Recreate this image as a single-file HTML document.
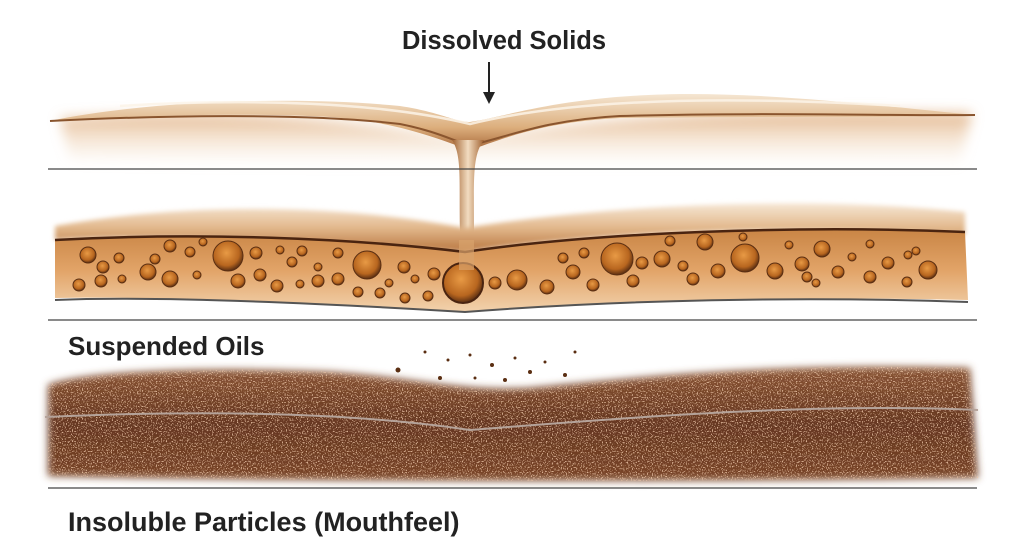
<!DOCTYPE html>
<html><head><meta charset="utf-8"><style>
html,body{margin:0;padding:0;background:#fff;}
body{width:1024px;height:559px;overflow:hidden;position:relative;font-family:"Liberation Sans",sans-serif;}
.t{position:absolute;font-weight:bold;color:#222;white-space:nowrap;}
</style></head><body>
<svg width="1024" height="559" viewBox="0 0 1024 559" style="position:absolute;left:0;top:0">
<defs>
<linearGradient id="fade" x1="0" y1="0" x2="0" y2="1">
<stop offset="0" stop-color="#dca470" stop-opacity="0.8"/><stop offset="1" stop-color="#f3dcc0" stop-opacity="0"/></linearGradient>
<linearGradient id="film" x1="0" y1="0" x2="0" y2="1">
<stop offset="0" stop-color="#f5e6d2"/><stop offset="0.6" stop-color="#dcae7c"/><stop offset="1" stop-color="#a8693a"/></linearGradient>
<linearGradient id="band" x1="0" y1="0" x2="0" y2="1">
<stop offset="0" stop-color="#c98545"/><stop offset="0.5" stop-color="#e2a468"/><stop offset="1" stop-color="#f2d2ad"/></linearGradient>
<linearGradient id="sheen" x1="0" y1="0" x2="0" y2="1">
<stop offset="0" stop-color="#f6e7d5"/><stop offset="0.5" stop-color="#e2b88c"/><stop offset="1" stop-color="#b8753e"/></linearGradient>
<linearGradient id="drip" x1="0" y1="0" x2="1" y2="0">
<stop offset="0" stop-color="#a0612f"/><stop offset="0.5" stop-color="#f2dcc0"/><stop offset="1" stop-color="#a0612f"/></linearGradient>
<radialGradient id="bub" cx="0.45" cy="0.4" r="0.6">
<stop offset="0" stop-color="#e89a45"/><stop offset="0.7" stop-color="#b8661f"/><stop offset="1" stop-color="#5a2e12"/></radialGradient>
<linearGradient id="soil" x1="0" y1="0" x2="0" y2="1">
<stop offset="0" stop-color="#8a5535"/><stop offset="0.5" stop-color="#653620"/><stop offset="1" stop-color="#7a4628"/></linearGradient>
<filter id="blur6" x="-10%" y="-50%" width="120%" height="200%"><feGaussianBlur stdDeviation="6"/></filter>
<filter id="blur3"><feGaussianBlur stdDeviation="2.5"/></filter>
<filter id="blur4" x="-5%" y="-20%" width="110%" height="140%"><feGaussianBlur stdDeviation="4"/></filter>
<filter id="speck" x="0" y="0" width="100%" height="100%">
<feTurbulence type="fractalNoise" baseFrequency="0.8" numOctaves="1" seed="3" result="n"/>
<feColorMatrix in="n" type="matrix" values="0 0 0 0 0.82  0 0 0 0 0.55  0 0 0 0 0.38  0 0 0 9 -5.0" result="s"/>
<feComposite in="s" in2="SourceGraphic" operator="in"/>
</filter>
<clipPath id="soilclip"><path d="M48,385 C80,372 200,366 330,372 C420,378 460,392 530,388 C620,380 760,362 970,368 L978,478 C700,482 300,482 48,476 Z"/></clipPath>
</defs>

<!-- top layer -->
<path d="M60,118 C200,110 330,114 465,140 C600,114 760,110 972,113 L960,165 C700,168 300,168 70,160 Z" fill="url(#fade)" filter="url(#blur6)"/>
<path d="M50,121 C150,100 300,96 400,106 C440,112 455,122 470,122 C510,116 560,96 680,94 C780,93 900,108 975,115 C900,118 760,116 620,118 C540,122 500,140 470,150 C440,140 400,122 330,117 C240,112 130,116 50,121 Z" fill="url(#film)"/>
<path d="M50,121 C150,116 300,112 400,124 C440,132 455,142 470,145 C500,140 540,120 620,116 C760,112 900,116 975,115" fill="none" stroke="#8a552e" stroke-width="2"/>
<path d="M120,106 C250,98 380,102 470,124 C560,102 700,94 900,106" fill="none" stroke="#fbf3e8" stroke-width="2.5" opacity="0.85"/>
<!-- drip -->
<path d="M452,140 C462,155 459,180 460,230 L459,270 L474,270 L474,230 C474,180 472,155 484,140 Z" fill="url(#drip)"/>
<line x1="48" y1="169" x2="977" y2="169" stroke="#444" stroke-width="1.3"/>

<!-- middle band -->
<path d="M55,226 C200,200 350,206 465,228 C600,206 800,194 965,212 L965,235 C800,225 620,230 465,252 C350,245 200,232 55,240 Z" fill="url(#sheen)" filter="url(#blur3)"/>
<path d="M55,240 C200,232 350,238 465,252 C600,232 800,225 965,232 L968,300 C800,296 620,300 465,312 C300,302 150,296 55,298 Z" fill="url(#band)"/>
<path d="M55,240 C200,232 350,238 465,252 C600,232 800,225 965,232" fill="none" stroke="#4a2410" stroke-width="2.5"/>
<path d="M55,300 C150,296 300,302 465,312 C620,300 800,296 968,302" fill="none" stroke="#555" stroke-width="2"/>
<g fill="url(#bub)" stroke="#5a2e12" stroke-width="1">
<circle cx="88" cy="255" r="8"/><circle cx="103" cy="267" r="6"/><circle cx="119" cy="258" r="5"/><circle cx="79" cy="285" r="6"/><circle cx="101" cy="281" r="6"/><circle cx="122" cy="279" r="4"/>
<circle cx="155" cy="259" r="5"/><circle cx="148" cy="272" r="8"/><circle cx="170" cy="279" r="8"/><circle cx="170" cy="246" r="6"/><circle cx="190" cy="252" r="5"/><circle cx="203" cy="242" r="4"/><circle cx="197" cy="275" r="4"/>
<circle cx="228" cy="256" r="15"/><circle cx="256" cy="253" r="6"/><circle cx="238" cy="281" r="7"/><circle cx="260" cy="275" r="6"/><circle cx="277" cy="286" r="6"/><circle cx="280" cy="250" r="4"/><circle cx="292" cy="262" r="5"/><circle cx="302" cy="251" r="5"/><circle cx="300" cy="284" r="4"/>
<circle cx="318" cy="267" r="4"/><circle cx="318" cy="281" r="6"/><circle cx="338" cy="253" r="5"/><circle cx="338" cy="279" r="6"/><circle cx="367" cy="265" r="14"/><circle cx="358" cy="292" r="5"/><circle cx="380" cy="293" r="5"/><circle cx="389" cy="283" r="4"/><circle cx="404" cy="267" r="6"/><circle cx="415" cy="279" r="4"/><circle cx="434" cy="274" r="6"/><circle cx="405" cy="298" r="5"/><circle cx="428" cy="296" r="5"/>
<circle cx="495" cy="283" r="6"/><circle cx="517" cy="280" r="10"/><circle cx="547" cy="287" r="7"/><circle cx="563" cy="258" r="5"/><circle cx="573" cy="272" r="7"/><circle cx="584" cy="253" r="5"/><circle cx="593" cy="285" r="6"/>
<circle cx="617" cy="259" r="16"/><circle cx="642" cy="263" r="6"/><circle cx="662" cy="259" r="8"/><circle cx="670" cy="241" r="5"/><circle cx="705" cy="242" r="8"/><circle cx="633" cy="281" r="6"/><circle cx="683" cy="266" r="5"/><circle cx="693" cy="279" r="6"/><circle cx="718" cy="271" r="7"/>
<circle cx="745" cy="258" r="14"/><circle cx="743" cy="237" r="4"/><circle cx="775" cy="271" r="8"/><circle cx="802" cy="264" r="7"/><circle cx="807" cy="277" r="5"/><circle cx="816" cy="283" r="4"/><circle cx="822" cy="249" r="8"/><circle cx="789" cy="245" r="4"/><circle cx="838" cy="272" r="6"/><circle cx="852" cy="257" r="4"/><circle cx="870" cy="277" r="6"/><circle cx="888" cy="263" r="6"/><circle cx="870" cy="244" r="4"/><circle cx="908" cy="255" r="4"/><circle cx="916" cy="251" r="4"/><circle cx="907" cy="282" r="5"/><circle cx="928" cy="270" r="9"/>
</g>
<circle cx="463" cy="283" r="20" fill="url(#bub)" stroke="#4a2410" stroke-width="2"/>
<rect x="459" y="240" width="15" height="30" fill="#d9a26c" opacity="0.7"/>
<line x1="48" y1="320" x2="977" y2="320" stroke="#444" stroke-width="1.3"/>

<!-- soil -->
<g filter="url(#blur4)"><path d="M48,385 C80,372 200,366 330,372 C420,378 460,392 530,388 C620,380 760,362 970,368 L978,478 C700,482 300,482 48,476 Z" fill="url(#soil)"/></g>
<g clip-path="url(#soilclip)"><rect x="40" y="360" width="945" height="125" fill="#000" filter="url(#speck)" opacity="0.85"/></g>
<path d="M45,417 C200,410 350,412 470,430 C600,420 800,402 978,410" fill="none" stroke="#b5a39a" stroke-width="2"/>
<g fill="#5a2e12">
<circle cx="425" cy="352" r="1.5"/><circle cx="448" cy="360" r="1.5"/><circle cx="398" cy="370" r="2.5"/><circle cx="470" cy="355" r="1.5"/><circle cx="492" cy="365" r="2"/><circle cx="515" cy="358" r="1.5"/><circle cx="530" cy="372" r="2"/><circle cx="545" cy="362" r="1.5"/><circle cx="565" cy="375" r="2"/><circle cx="505" cy="380" r="2"/><circle cx="475" cy="378" r="1.5"/><circle cx="440" cy="378" r="2"/><circle cx="575" cy="352" r="1.5"/>
</g>
<line x1="48" y1="488" x2="977" y2="488" stroke="#444" stroke-width="1.3"/>
<!-- arrow -->
<line x1="489" y1="62" x2="489" y2="94" stroke="#222" stroke-width="2"/>
<path d="M483,92 L495,92 L489,104 Z" fill="#222"/>
</svg>
<div class="t" style="left:402px;top:27px;font-size:25.5px;">Dissolved Solids</div>
<div class="t" style="left:68px;top:331px;font-size:26px;">Suspended Oils</div>
<div class="t" style="left:68px;top:507px;font-size:27px;">Insoluble Particles (Mouthfeel)</div>
</body></html>
